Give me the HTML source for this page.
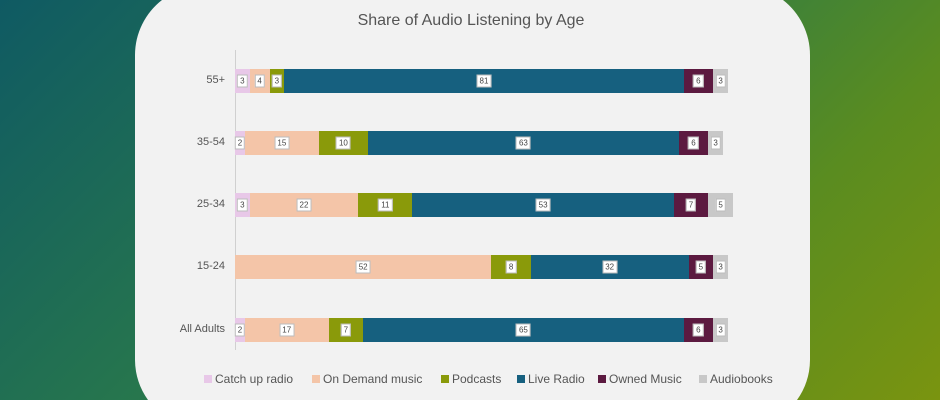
<!DOCTYPE html><html><head><style>
html,body{margin:0;width:940px;height:400px;overflow:hidden;}
#w{position:absolute;left:0;top:0;width:940px;height:400px;overflow:hidden;font-family:"Liberation Sans",sans-serif;background:linear-gradient(135deg,#0f5a63 0%,#2a7a4a 45%,#5a8c20 75%,#7a9410 100%);}
.panel{position:absolute;left:0;top:0;}
.title{position:absolute;left:221px;width:500px;top:12px;text-align:center;font-size:16px;color:#555;}
.axis{position:absolute;left:235px;top:50px;width:1px;height:300px;background:#d0d0d0;}
.lab{position:absolute;font-size:11px;color:#555;text-align:right;width:90px;left:135px;}
.seg{position:absolute;height:24px;}
.v{position:absolute;top:50%;left:50%;transform:translate(-50%,-50%);background:#fff;border:1px solid #bbb;font-size:8px;color:#444;padding:1px 2px;line-height:9px}
.leg{position:absolute;top:372px;font-size:12px;color:#555;}
.leg i{display:inline-block;width:8px;height:8px;margin-right:3px;}
</style></head><body><div id="w">
<svg class="panel" width="940" height="400"><path d="M162,0 A70,70 0 0 0 135,55 L135,360 A70,70 0 0 0 148,400 L797,400 A70,70 0 0 0 810,360 L810,55 A70,70 0 0 0 783,0 Z" fill="#f2f2f2"/></svg>
<div class="title">Share of Audio Listening by Age</div>
<div class="axis"></div>
<div id="c"></div>
<div class="leg" style="left:204px"><i style="background:#e8c8e8"></i>Catch up radio</div>
<div class="leg" style="left:312px"><i style="background:#f4c5a8"></i>On Demand music</div>
<div class="leg" style="left:441px"><i style="background:#8a9a0a"></i>Podcasts</div>
<div class="leg" style="left:517px"><i style="background:#16607f"></i>Live Radio</div>
<div class="leg" style="left:598px"><i style="background:#5c1a40"></i>Owned Music</div>
<div class="leg" style="left:699px"><i style="background:#c8c8c8"></i>Audiobooks</div>
</div>
<script>
var cols=["#e8c8e8","#f4c5a8","#8a9a0a","#16607f","#5c1a40","#c8c8c8"];
var rows=[["55+",81,[3,4,3,81,6,3]],["35-54",143,[2,15,10,63,6,3]],["25-34",205,[3,22,11,53,7,5]],["15-24",267,[0,52,8,32,5,3]],["All Adults",330,[2,17,7,65,6,3]]];
var h="",s=4.93;
rows.forEach(function(r){h+='<div class="lab" style="top:'+(r[1]-7)+'px">'+r[0]+'</div>';var x=235;
r[2].forEach(function(v,i){if(!v)return;h+='<div class="seg" style="left:'+x+'px;top:'+(r[1]-12)+'px;width:'+(v*s)+'px;background:'+cols[i]+'"><span class="v">'+v+'</span></div>';x+=v*s;});});
document.getElementById("c").innerHTML=h;
</script></body></html>
